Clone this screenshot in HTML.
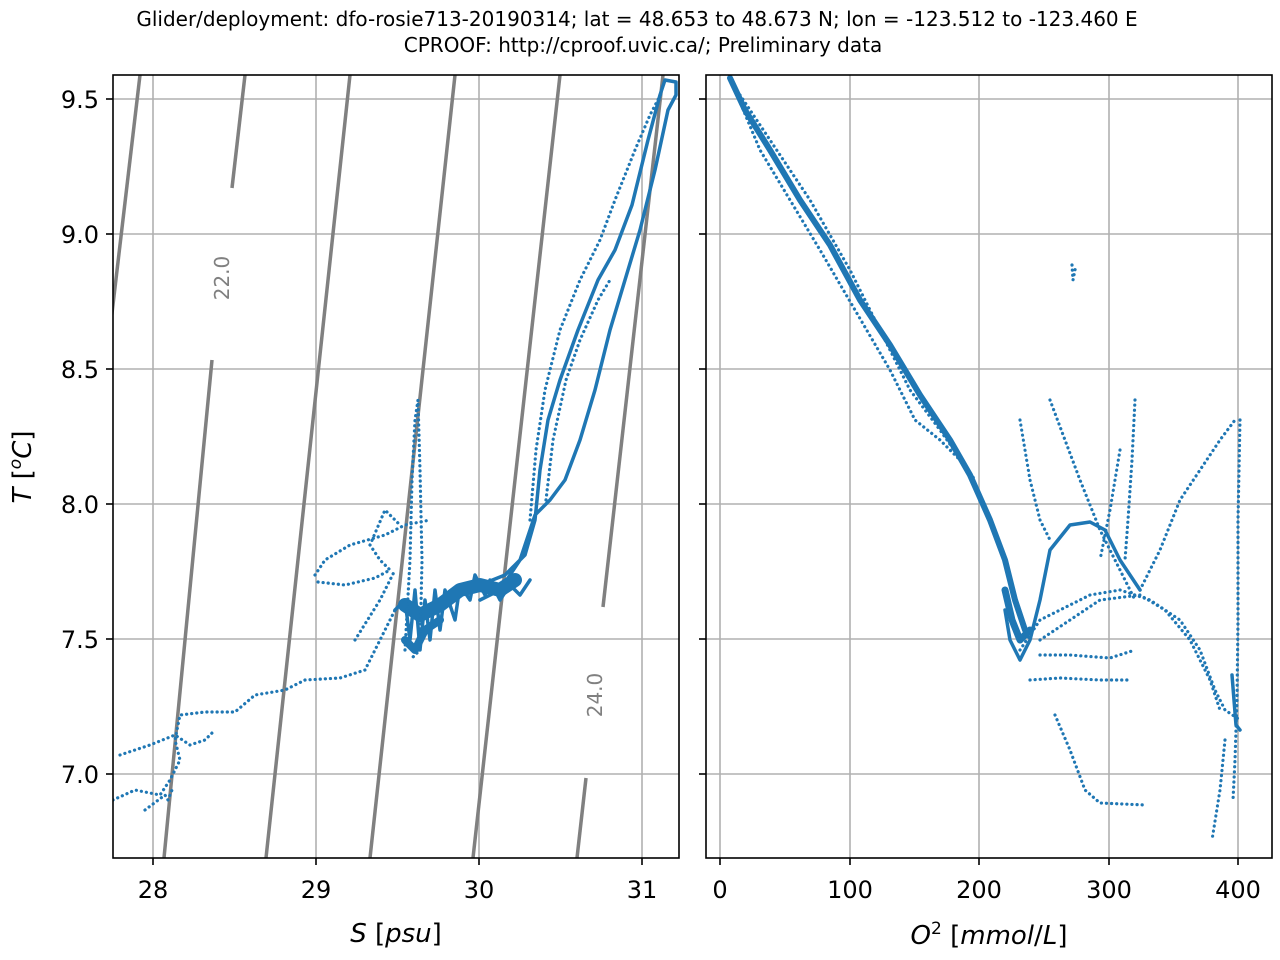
<!DOCTYPE html>
<html><head><meta charset="utf-8"><style>
body{margin:0;background:#fff;}
svg{display:block;font-family:"DejaVu Sans","Liberation Sans",sans-serif;}
.g{stroke:#b0b0b0;stroke-width:1.6;}
.iso{stroke:#808080;stroke-width:3.5;fill:none;}
.d{stroke:#1f77b4;fill:none;stroke-width:3.5;stroke-linecap:round;stroke-linejoin:round;}
.s{stroke:#1f77b4;fill:none;stroke-width:3.2;stroke-linecap:round;stroke-dasharray:0.1 5;}
.t{font-size:24px;fill:#000;}
</style></head><body>
<svg width="1280" height="960" viewBox="0 0 1280 960">
<text x="637" y="26" text-anchor="middle" font-size="20">Glider/deployment: dfo-rosie713-20190314; lat = 48.653 to 48.673 N; lon = -123.512 to -123.460 E</text>
<text x="643" y="52" text-anchor="middle" font-size="20">CPROOF: http://cproof.uvic.ca/; Preliminary data</text>

<clipPath id="c1"><rect x="113" y="75" width="566" height="783"/></clipPath>
<g clip-path="url(#c1)">
<g class="g">
<line x1="153" y1="75" x2="153" y2="858"/><line x1="316" y1="75" x2="316" y2="858"/><line x1="479" y1="75" x2="479" y2="858"/><line x1="642" y1="75" x2="642" y2="858"/>
<line x1="113" y1="99" x2="679" y2="99"/><line x1="113" y1="234" x2="679" y2="234"/><line x1="113" y1="369" x2="679" y2="369"/><line x1="113" y1="504" x2="679" y2="504"/><line x1="113" y1="639" x2="679" y2="639"/><line x1="113" y1="774" x2="679" y2="774"/>
</g>
<g class="iso">
<line x1="110" y1="330" x2="140" y2="75"/>
<line x1="164" y1="858" x2="212" y2="360"/><line x1="232" y1="188" x2="245" y2="75"/>
<line x1="266" y1="858" x2="350" y2="75"/>
<line x1="370" y1="858" x2="455" y2="75"/>
<line x1="473" y1="858" x2="560" y2="75"/>
<line x1="577" y1="858" x2="586" y2="778"/><line x1="603" y1="607" x2="663" y2="75"/>
</g>
<text transform="translate(229,278) rotate(-90)" text-anchor="middle" font-size="20" fill="#808080">22.0</text>
<text transform="translate(602,695) rotate(-90)" text-anchor="middle" font-size="20" fill="#808080">24.0</text>
<polyline class="d" points="480,585 505,575 525,555 535,520 540,470 548,420 560,380 578,330 598,280 615,250 632,205 648,140 660,95 665,80 676,82 676,95 668,110 655,170 640,230 625,280 610,330 595,390 580,440 565,480 550,500 535,515 520,560 500,590 480,600"/>
<polyline class="s" points="530,520 536,450 545,390 560,330 580,280 600,240 615,200 635,150 650,115 662,92"/>
<polyline class="s" points="546,500 553,440 566,380 580,340 598,300 610,280"/>
<polyline class="d" points="395,610 405,600 410,640 415,590 420,650 425,600 430,640 435,590 440,630 445,590 455,620 460,585 470,600 475,575 485,595 490,580 500,600 510,585 520,595 530,580"/>
<polyline class="d" style="stroke-width:14" points="405,605 420,615 440,605 460,590 480,585 500,590 515,580"/>
<polyline class="d" style="stroke-width:8" points="405,640 415,650 425,630 440,620"/>
<polyline class="s" points="405,650 410,560 412,480 415,420 418,400 420,470 422,560 420,650 410,660"/>
<polyline class="s" points="315,575 325,560 350,545 385,535 405,525 430,520"/>
<polyline class="s" points="318,582 345,585 375,578 390,570 380,560 370,545 385,510 400,525"/>
<polyline class="s" points="113,800 135,790 160,795 170,780 180,760 175,740 180,715 205,712 235,712 255,695 285,690 305,680 340,678 365,670 380,640 395,610"/>
<polyline class="s" points="120,755 150,745 175,735 190,745 205,740 215,730"/>
<polyline class="s" points="145,810 165,795 168,800 172,790"/>
<polyline class="s" points="355,640 380,600 395,570"/>
</g>
<rect x="113" y="75" width="566" height="783" fill="none" stroke="#000" stroke-width="1.6"/>
<g stroke="#000" stroke-width="1.6">
<line x1="153" y1="858" x2="153" y2="865"/><line x1="316" y1="858" x2="316" y2="865"/><line x1="479" y1="858" x2="479" y2="865"/><line x1="642" y1="858" x2="642" y2="865"/>
<line x1="106" y1="99" x2="113" y2="99"/><line x1="106" y1="234" x2="113" y2="234"/><line x1="106" y1="369" x2="113" y2="369"/><line x1="106" y1="504" x2="113" y2="504"/><line x1="106" y1="639" x2="113" y2="639"/><line x1="106" y1="774" x2="113" y2="774"/>
</g>
<g class="t" text-anchor="middle">
<text x="153" y="898">28</text><text x="316" y="898">29</text><text x="479" y="898">30</text><text x="642" y="898">31</text>
</g>
<g class="t" text-anchor="end">
<text x="99" y="108">9.5</text><text x="99" y="243">9.0</text><text x="99" y="378">8.5</text><text x="99" y="513">8.0</text><text x="99" y="648">7.5</text><text x="99" y="783">7.0</text>
</g>
<text x="396" y="942" text-anchor="middle" font-size="26"><tspan font-style="italic">S</tspan> [<tspan font-style="italic">psu</tspan>]</text>
<text transform="translate(31,467) rotate(-90)" text-anchor="middle" font-size="26"><tspan font-style="italic">T</tspan> [<tspan font-style="italic" baseline-shift="super" font-size="17">o</tspan><tspan font-style="italic">C</tspan>]</text>

<clipPath id="c2"><rect x="706" y="75" width="566" height="783"/></clipPath>
<g clip-path="url(#c2)">
<g class="g">
<line x1="720" y1="75" x2="720" y2="858"/><line x1="850" y1="75" x2="850" y2="858"/><line x1="979" y1="75" x2="979" y2="858"/><line x1="1109" y1="75" x2="1109" y2="858"/><line x1="1238" y1="75" x2="1238" y2="858"/>
<line x1="706" y1="99" x2="1272" y2="99"/><line x1="706" y1="234" x2="1272" y2="234"/><line x1="706" y1="369" x2="1272" y2="369"/><line x1="706" y1="504" x2="1272" y2="504"/><line x1="706" y1="639" x2="1272" y2="639"/><line x1="706" y1="774" x2="1272" y2="774"/>
</g>
<polyline class="d" style="stroke-width:6" points="730,78 745,110 770,150 800,200 830,245 860,300 890,345 920,395 950,440 970,475 990,520 1005,560 1015,600 1025,630"/>
<polyline class="s" points="735,90 760,150 790,200 820,250 855,310 890,370 915,420 940,440 960,460"/>
<polyline class="s" points="740,95 770,140 810,200 850,270 880,330 910,390 940,430 975,480"/>
<polyline class="d" style="stroke-width:7" points="1005,590 1012,620 1020,640 1030,630"/>
<polyline class="d" points="1005,610 1010,640 1020,660 1030,640 1040,600 1050,550 1070,525 1090,522 1105,530 1120,560 1140,590"/>
<polyline class="s" points="1020,650 1040,620 1060,610 1090,595 1120,590 1150,600 1180,620 1200,650 1215,690 1225,710 1240,720"/>
<polyline class="s" points="1040,640 1070,620 1100,600 1140,595 1165,610 1190,640 1210,680 1220,710"/>
<polyline class="s" points="1030,680 1060,678 1100,680 1130,680"/>
<polyline class="s" points="1040,655 1070,655 1110,658 1135,650"/>
<polyline class="s" points="1140,590 1160,550 1180,500 1200,470 1220,440 1235,420"/>
<polyline class="s" points="1020,420 1030,480 1040,520 1050,540"/>
<polyline class="s" points="1050,400 1065,440 1080,480 1100,530 1120,570 1135,600"/>
<polyline class="s" points="1135,400 1132,460 1128,520 1125,560"/>
<polyline class="s" points="1120,450 1110,510 1100,560"/>
<polyline class="s" points="1055,715 1070,750 1085,790 1100,803 1145,805"/>
<polyline class="s" points="1240,420 1238,520 1238,620 1237,700 1235,760 1233,800"/>
<polyline class="d" points="1232,675 1234,700 1236,725 1240,730"/>
<polyline class="s" points="1225,740 1220,790 1212,840"/>
<polyline class="s" points="1072,265 1073,280 1076,265"/>
</g>
<rect x="706" y="75" width="566" height="783" fill="none" stroke="#000" stroke-width="1.6"/>
<g stroke="#000" stroke-width="1.6">
<line x1="720" y1="858" x2="720" y2="865"/><line x1="850" y1="858" x2="850" y2="865"/><line x1="979" y1="858" x2="979" y2="865"/><line x1="1109" y1="858" x2="1109" y2="865"/><line x1="1238" y1="858" x2="1238" y2="865"/>
<line x1="699" y1="99" x2="706" y2="99"/><line x1="699" y1="234" x2="706" y2="234"/><line x1="699" y1="369" x2="706" y2="369"/><line x1="699" y1="504" x2="706" y2="504"/><line x1="699" y1="639" x2="706" y2="639"/><line x1="699" y1="774" x2="706" y2="774"/>
</g>
<g class="t" text-anchor="middle">
<text x="720" y="898">0</text><text x="850" y="898">100</text><text x="979" y="898">200</text><text x="1109" y="898">300</text><text x="1238" y="898">400</text>
</g>
<text x="989" y="944" text-anchor="middle" font-size="26"><tspan font-style="italic">O</tspan><tspan baseline-shift="super" font-size="17">2</tspan> [<tspan font-style="italic">mmol</tspan>/<tspan font-style="italic">L</tspan>]</text>
</svg>
</body></html>
